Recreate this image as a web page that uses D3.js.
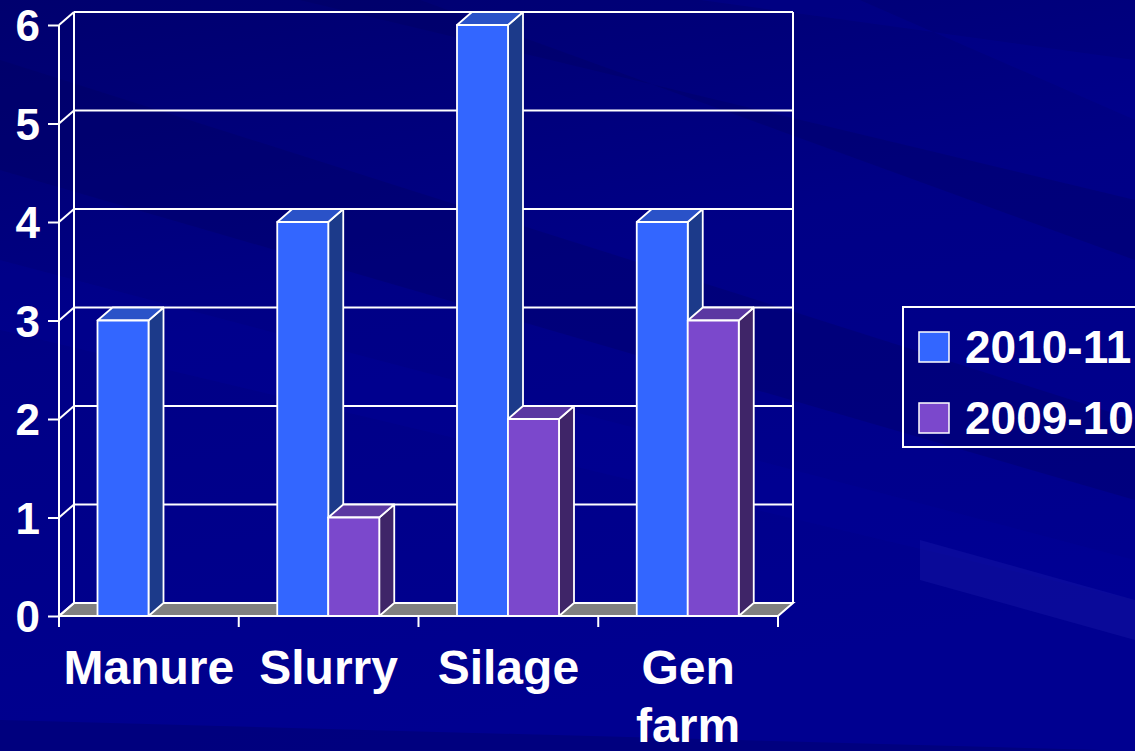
<!DOCTYPE html>
<html>
<head>
<meta charset="utf-8">
<script src="https://cdn.jsdelivr.net/npm/d3@7"></script>
<style>
  body { margin: 0; background: #000088; overflow: hidden; }
  .chart text { font-family: Arial, "Liberation Sans", sans-serif; font-weight: bold; fill: #fff; }
</style>
</head>
<body>
<div class="chart"></div>
<script>
// chart data
var categories = ["Manure", "Slurry", "Silage", "Gen farm"];
var seriesNames = ["2010-11", "2009-10"];
var values2010 = [3, 4, 6, 4];
var values2009 = [0, 1, 2, 3];
var yTicks = [0, 1, 2, 3, 4, 5, 6];

var svgWidth = 1135;
var svgHeight = 751;

// 3d depth offset of the walls and bars
var depth = { dx: 15, dy: -13 };

var svg = d3
  .select(".chart")
  .append("svg")
  .attr("width", svgWidth)
  .attr("height", svgHeight);

// background with diagonal streaks
var defs = svg.append("defs");
var bg = defs
  .append("linearGradient")
  .attr("id", "bg")
  .attr("x1", "0").attr("y1", "0")
  .attr("x2", "0.3").attr("y2", "1");
bg.append("stop").attr("offset", "0").attr("stop-color", "#00006e");
bg.append("stop").attr("offset", "0.45").attr("stop-color", "#000086");
bg.append("stop").attr("offset", "1").attr("stop-color", "#000090");

svg.append("rect").attr("width", svgWidth).attr("height", svgHeight).attr("fill", "url(#bg)");

var streaks = [
  { pts: [[0, 60], [1135, 420], [1135, 500], [0, 170]], c: "#00005e", o: 0.3 },
  { pts: [[0, 260], [1135, 560], [1135, 600], [0, 330]], c: "#0000a0", o: 0.25 },
  { pts: [[300, 0], [1135, 200], [1135, 260], [420, 0]], c: "#00005e", o: 0.3 },
  { pts: [[700, 0], [1135, 60], [1135, 120], [860, 0]], c: "#0000a0", o: 0.25 },
  { pts: [[920, 540], [1135, 600], [1135, 640], [920, 580]], c: "#2020b0", o: 0.3 },
  { pts: [[0, 720], [1135, 751], [0, 751]], c: "#00006e", o: 0.5 },
];
svg
  .selectAll(".streak")
  .data(streaks)
  .enter()
  .append("polygon")
  .attr("points", (d) => d.pts.map((p) => p.join(",")).join(" "))
  .attr("fill", (d) => d.c)
  .attr("opacity", (d) => d.o);

// scales (front plane)
var x = d3.scaleBand().domain(categories).range([59, 778]);
var xSeries = d3.scaleBand().domain(seriesNames).range([38.5, 140.5]);
var y = d3.scaleLinear().domain([0, 6]).range([616, 25]);

var x0 = x.range()[0];
var x1 = x.range()[1];
var yTop = y(6);
var yBase = y(0);

var g = svg.append("g").attr("fill", "none").attr("stroke", "#fff").attr("stroke-width", 2);

// floor
g.append("polygon")
  .attr("points", [
    [x0, yBase],
    [x1, yBase],
    [x1 + depth.dx, yBase + depth.dy],
    [x0 + depth.dx, yBase + depth.dy],
  ].map((p) => p.join(",")).join(" "))
  .attr("fill", "#808080");

// back wall gridlines
g.selectAll(".grid")
  .data(yTicks)
  .enter()
  .append("line")
  .attr("x1", x0 + depth.dx)
  .attr("x2", x1 + depth.dx)
  .attr("y1", (d) => y(d) + depth.dy)
  .attr("y2", (d) => y(d) + depth.dy);

// side wall diagonals
g.selectAll(".side")
  .data(yTicks)
  .enter()
  .append("line")
  .attr("x1", x0)
  .attr("x2", x0 + depth.dx)
  .attr("y1", (d) => y(d))
  .attr("y2", (d) => y(d) + depth.dy);

// wall edges
g.append("line").attr("x1", x0 + depth.dx).attr("x2", x0 + depth.dx).attr("y1", yTop + depth.dy).attr("y2", yBase + depth.dy);
g.append("line").attr("x1", x1 + depth.dx).attr("x2", x1 + depth.dx).attr("y1", yTop + depth.dy).attr("y2", yBase + depth.dy);
g.append("line").attr("x1", x0).attr("x2", x0).attr("y1", yTop).attr("y2", yBase);

// bars
var bars = [];
categories.forEach(function (c, i) {
  bars.push({ cat: c, s: seriesNames[0], v: values2010[i], front: "#3366ff", side: "#1c3a8a", top: "#2a52c8" });
  bars.push({ cat: c, s: seriesNames[1], v: values2009[i], front: "#7b48cc", side: "#3f2568", top: "#5b38a2" });
});

bars
  .filter((d) => d.v > 0)
  .forEach(function (d) {
    var bx = x(d.cat) + xSeries(d.s);
    var bw = xSeries.bandwidth();
    var by = y(d.v);
    var bar = g.append("g").attr("stroke-width", 1.8).attr("stroke-linejoin", "round");
    // side face
    bar.append("polygon")
      .attr("points", [
        [bx + bw, yBase],
        [bx + bw, by],
        [bx + bw + depth.dx, by + depth.dy],
        [bx + bw + depth.dx, yBase + depth.dy],
      ].map((p) => p.join(",")).join(" "))
      .attr("fill", d.side);
    // top face
    bar.append("polygon")
      .attr("points", [
        [bx, by],
        [bx + bw, by],
        [bx + bw + depth.dx, by + depth.dy],
        [bx + depth.dx, by + depth.dy],
      ].map((p) => p.join(",")).join(" "))
      .attr("fill", d.top);
    // front face
    bar.append("rect")
      .attr("x", bx)
      .attr("y", by)
      .attr("width", bw)
      .attr("height", yBase - by)
      .attr("fill", d.front);
  });

// axes
var leftAxis = d3.axisLeft(y).tickValues(yTicks).tickFormat(d3.format("d")).tickSize(11).tickPadding(8);
var yAxis = svg.append("g").attr("transform", `translate(${x0}, 0)`).call(leftAxis);
yAxis.select(".domain").remove();
yAxis.selectAll("line").attr("stroke", "#fff").attr("stroke-width", 2);
yAxis.selectAll("text").attr("font-size", 44).attr("fill", "#fff").attr("dy", "0.36em");

var xTicksPos = x.domain().map((d) => x(d)).concat([x1]);
svg
  .append("g")
  .selectAll("line")
  .data(xTicksPos)
  .enter()
  .append("line")
  .attr("x1", (d) => d)
  .attr("x2", (d) => d)
  .attr("y1", yBase)
  .attr("y2", yBase + 11)
  .attr("stroke", "#fff")
  .attr("stroke-width", 2);

svg.append("line")
  .attr("x1", x0).attr("x2", x1)
  .attr("y1", yBase).attr("y2", yBase)
  .attr("stroke", "#fff").attr("stroke-width", 2);

// category labels, "Gen farm" wraps onto two lines
var catLabels = svg
  .append("g")
  .selectAll("text")
  .data(categories)
  .enter()
  .append("text")
  .attr("x", (d) => x(d) + x.bandwidth() / 2)
  .attr("y", 684)
  .attr("text-anchor", "middle")
  .attr("font-size", 48);

catLabels.each(function (d) {
  var words = d === "Gen farm" ? ["Gen", "farm"] : [d];
  var t = d3.select(this);
  words.forEach(function (w, i) {
    t.append("tspan")
      .attr("x", x(d) + x.bandwidth() / 2)
      .attr("dy", i === 0 ? 0 : 58)
      .text(w);
  });
});

// legend
var legend = svg.append("g").attr("transform", "translate(903, 307)");
legend.append("rect")
  .attr("width", 250)
  .attr("height", 140)
  .attr("fill", "none")
  .attr("stroke", "#fff")
  .attr("stroke-width", 2);

var legendColors = ["#3366ff", "#7b48cc"];
var legendItems = legend
  .selectAll(".item")
  .data(seriesNames)
  .enter()
  .append("g")
  .attr("transform", (d, i) => `translate(16, ${25 + i * 71})`);

legendItems.append("rect")
  .attr("width", 30)
  .attr("height", 30)
  .attr("fill", (d, i) => legendColors[i])
  .attr("stroke", "#fff")
  .attr("stroke-width", 1.5);

legendItems.append("text")
  .attr("x", 46)
  .attr("y", 31)
  .attr("font-size", 46)
  .text((d) => d);
</script>
</body>
</html>
